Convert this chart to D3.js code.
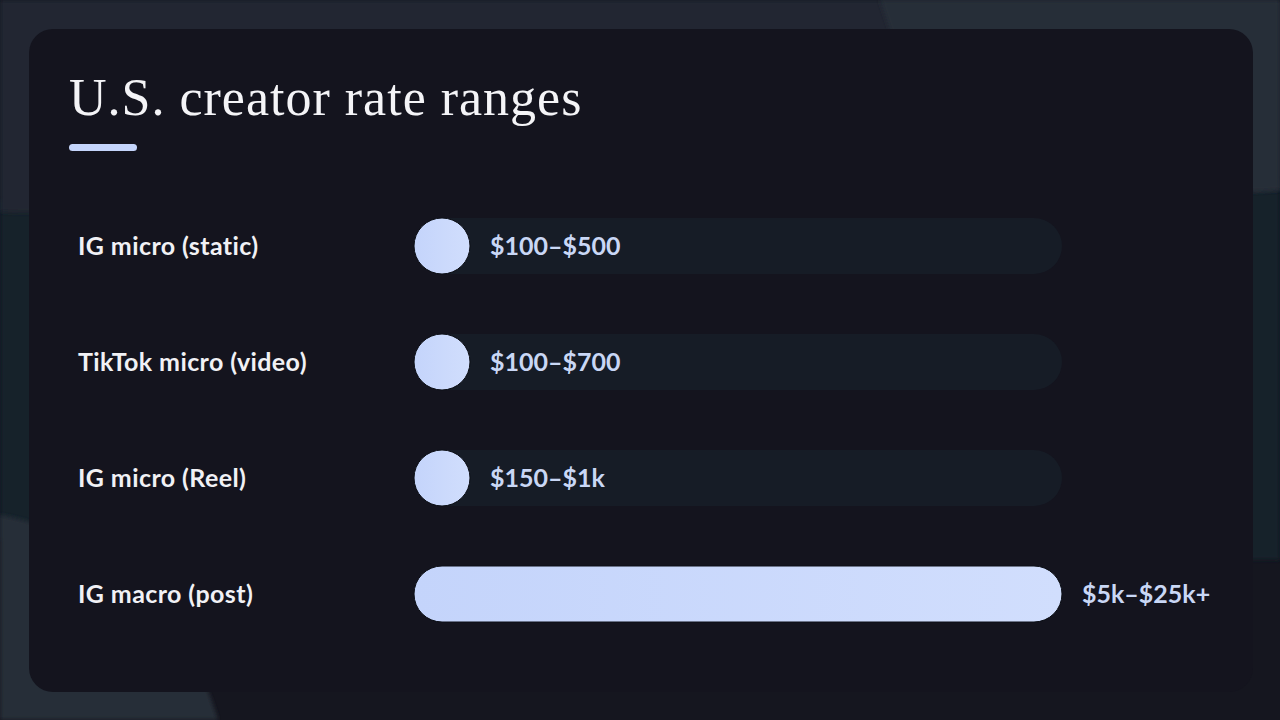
<!DOCTYPE html>
<html><head><meta charset="utf-8">
<script src="https://cdn.jsdelivr.net/npm/d3@7"></script>
<style>html,body{margin:0;padding:0;background:#15161f;}svg{display:block;}</style>
</head><body>
<svg id="chart" width="1280" height="720"></svg>
<script>
const categories = ["IG micro (static)", "TikTok micro (video)", "IG micro (Reel)", "IG macro (post)"];
const lowValues = [100, 100, 150, 5000];
const highValues = [500, 700, 1000, 25000];
const rangeLabels = ["$100–$500", "$100–$700", "$150–$1k", "$5k–$25k+"];
const maxValue = 25000;
const title = "U.S. creator rate ranges";

const svg = d3.select("#chart");
const W = 1280, H = 720;

const defs = svg.append("defs");
const grad = defs.append("linearGradient").attr("id","barGrad").attr("x1","0").attr("x2","1");
grad.append("stop").attr("offset","0").attr("stop-color","#c4d4fb");
grad.append("stop").attr("offset","1").attr("stop-color","#d1defd");
const blur = defs.append("filter").attr("id","soft").attr("x","-10%").attr("y","-10%").attr("width","120%").attr("height","120%");
blur.append("feGaussianBlur").attr("stdDeviation","2");

svg.append("rect").attr("width",W).attr("height",H).attr("fill","#15161f");
svg.append("path").attr("d","M0,200 L1280,180 L1280,560 L0,540 Z").attr("fill","#18212a").attr("filter","url(#soft)");
svg.append("path").attr("d","M0,0 L1280,0 L1280,190 C1100,200 900,205 700,205 C400,205 150,215 0,212 Z").attr("fill","#222731").attr("filter","url(#soft)");
svg.append("path").attr("d","M880,0 L1280,0 L1280,190 L1255,192 L900,60 Z").attr("fill","#262d38").attr("filter","url(#soft)");
svg.append("path").attr("d","M0,515 C60,525 120,560 160,600 C190,640 205,680 218,720 L0,720 Z").attr("fill","#262d38").attr("filter","url(#soft)");

const card = {x:29, y:29, w:1224, h:663};
svg.append("rect").attr("x",card.x).attr("y",card.y).attr("width",card.w).attr("height",card.h)
  .attr("rx",24).attr("fill","#14141e");

svg.append("text").attr("x",69).attr("y",115).text(title)
  .attr("font-family","'Liberation Serif', serif").attr("font-size",52).attr("letter-spacing",1)
  .attr("fill","#f4f4f7");
svg.append("rect").attr("x",69).attr("y",144).attr("width",68).attr("height",7).attr("rx",3.5).attr("fill","#c5d5fb");

const y = d3.scalePoint().domain(categories).range([246, 594]);
const x = d3.scaleLinear().domain([0, maxValue]).range([414, 1062]);
const barH = 56;

const rows = svg.append("g").selectAll("g").data(categories).join("g")
  .attr("transform", d => `translate(0,${y(d)})`);

rows.append("text").attr("x",78).attr("y",0).attr("dy","0.35em").text(d=>d)
  .attr("font-family","Lato, sans-serif").attr("font-weight",700).attr("font-size",25)
  .attr("letter-spacing",0.4).attr("fill","#f1f1f5");

rows.append("rect").attr("x",x(0)).attr("y",-barH/2).attr("width",x(maxValue)-x(0)).attr("height",barH)
  .attr("rx",barH/2).attr("fill","#161c26");

const barW = (d,i) => Math.max(barH, x(highValues[i]) - x(0));
rows.append("rect").attr("x",x(0)).attr("y",-barH/2).attr("width",(d,i)=>barW(d,i)).attr("height",barH)
  .attr("rx",barH/2).attr("fill","url(#barGrad)").attr("stroke","#0c0f16").attr("stroke-width",1);

rows.append("text").attr("x",(d,i)=>x(0)+barW(d,i)+20).attr("y",0).attr("dy","0.35em")
  .text((d,i)=>rangeLabels[i])
  .attr("font-family","Lato, sans-serif").attr("font-weight",700).attr("font-size",25)
  .attr("fill","#c9d7f5");
</script>
</body></html>
